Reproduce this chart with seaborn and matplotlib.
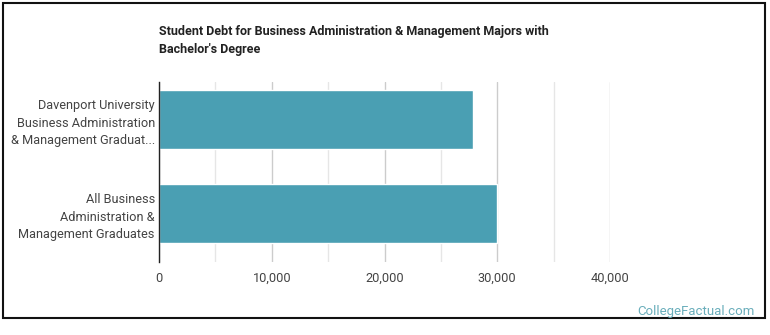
import matplotlib
matplotlib.use('Agg')
import matplotlib.pyplot as plt
import matplotlib.patches as mpatches
import seaborn as sns
import pandas as pd
from matplotlib.ticker import FuncFormatter, MultipleLocator

# data
categories = [
    'Davenport University\nBusiness Administration\n& Management Graduat...',
    'All Business\nAdministration &\nManagement Graduates',
]
debt = [27850, 30000]
x_ticks = [0, 10000, 20000, 30000, 40000]
title_lines = ['Student Debt for Business Administration & Management Majors with',
               "Bachelor's Degree"]

df = pd.DataFrame({'group': categories, 'debt': debt})

sns.set_theme(style='white')
plt.rcParams['font.family'] = ['Roboto', 'DejaVu Sans']

fig = plt.figure(figsize=(7.7, 3.35), dpi=100)
ax = fig.add_axes([159 / 770, 1 - 262 / 335, (610 - 159) / 770, (262 - 82) / 335])

sns.barplot(data=df, x='debt', y='group', color='#4a9fb3', saturation=1,
            width=0.63, ax=ax)

ax.set_xlim(0, 40000)
ax.set_ylim(1.516, -0.40)
ax.set_xticks(x_ticks)
ax.xaxis.set_minor_locator(MultipleLocator(5000))
ax.xaxis.set_major_formatter(FuncFormatter(lambda v, p: f'{int(v):,}'))
ax.grid(axis='x', which='major', color='#cccccc', linewidth=1)
ax.grid(axis='x', which='minor', color='#e6e6e6', linewidth=1)
ax.set_axisbelow(True)
ax.set_xlabel('')
ax.set_ylabel('')
for s in ['top', 'right', 'bottom']:
    ax.spines[s].set_visible(False)
ax.spines['left'].set_color('#222222')
ax.spines['left'].set_linewidth(1)
ax.tick_params(axis='x', length=0, pad=7, labelsize=9.2, labelcolor='#444444')
ax.tick_params(axis='y', length=0, pad=3, labelsize=9.2, labelcolor='#444444')
for lab in ax.get_yticklabels():
    lab.set_horizontalalignment('right')
    lab.set_linespacing(1.45)

for i, line in enumerate(title_lines):
    fig.text(159 / 770, 1 - (32 + 18 * i) / 335, line, fontsize=9,
             fontweight='bold', color='#222222', va='center', ha='left')

fig.text(755 / 770, 1 - 311 / 335, 'CollegeFactual.com', fontsize=9.5,
         color='#6aaebb', ha='right', va='center')

# outer frame
fig.patches.append(mpatches.Rectangle((3 / 770, 1 - 318 / 335), 762 / 770, 315 / 335,
                                      transform=fig.transFigure, fill=False,
                                      edgecolor='#111111', linewidth=1.5))

fig.savefig('out.png', dpi=100)
